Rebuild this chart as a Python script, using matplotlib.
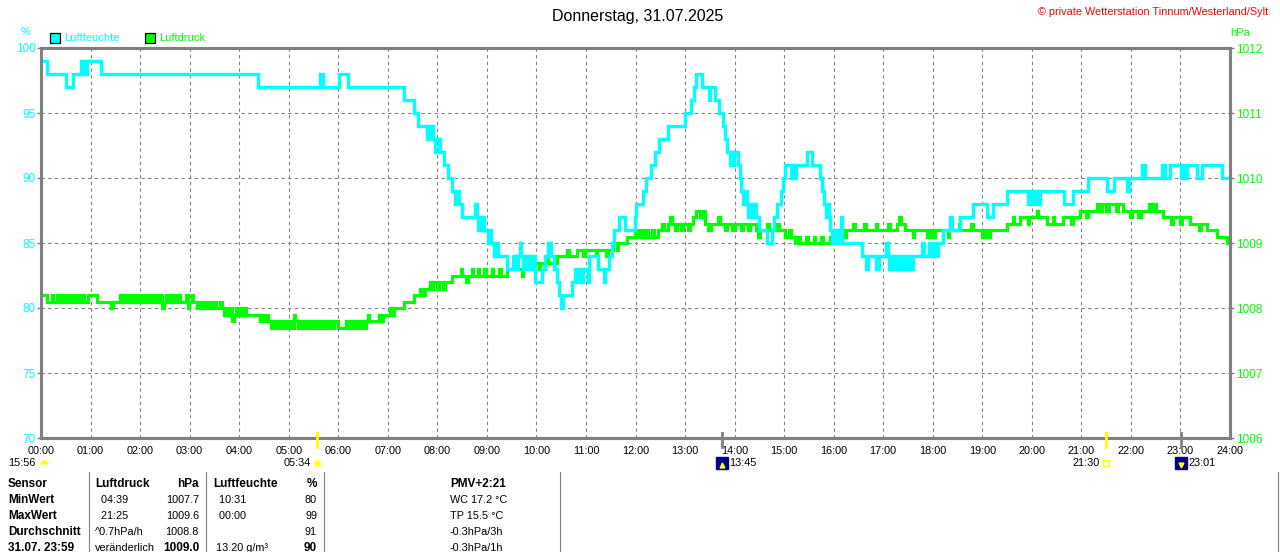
import numpy as np
import matplotlib.pyplot as plt
from matplotlib.patches import Rectangle
from matplotlib.lines import Line2D

plt.rcParams['font.family'] = ['Liberation Sans', 'DejaVu Sans']

W, H = 1280, 552

titel = 'Donnerstag, 31.07.2025'
quelle = '\u00a9 private Wetterstation Tinnum/Westerland/Sylt'

# Luftfeuchte in %, Stufenwerte (Stunde, Wert)
feuchte = [
    (0.00, 99), (0.12, 98), (0.50, 97), (0.64, 98), (0.80, 99), (0.84, 98), (0.87, 99), (0.90, 98),
    (0.93, 99), (1.22, 98), (4.38, 97), (5.64, 98), (5.69, 97), (6.02, 98), (6.20, 97), (7.33, 96),
    (7.52, 95), (7.60, 94), (7.80, 93), (7.83, 94), (7.85, 93), (7.88, 94), (7.91, 93), (7.95, 92),
    (8.04, 93), (8.06, 92), (8.14, 91), (8.21, 90), (8.29, 89), (8.36, 88), (8.40, 89), (8.44, 88),
    (8.50, 87), (8.77, 88), (8.80, 87), (8.82, 86), (8.86, 87), (8.89, 86), (8.92, 87), (8.95, 86),
    (9.02, 85), (9.06, 86), (9.08, 85), (9.15, 84), (9.18, 85), (9.23, 84), (9.40, 83), (9.53, 84),
    (9.58, 83), (9.62, 84), (9.66, 85), (9.69, 84), (9.72, 83), (9.76, 84), (9.80, 83), (9.84, 84),
    (9.88, 83), (9.92, 84), (9.97, 82), (10.11, 83), (10.17, 84), (10.24, 85), (10.30, 84), (10.36, 83),
    (10.42, 82), (10.46, 81), (10.50, 80), (10.54, 81), (10.72, 82), (10.77, 83), (10.82, 82), (10.86, 83),
    (10.92, 82), (10.95, 83), (11.04, 82), (11.07, 84), (11.25, 83), (11.36, 82), (11.39, 83), (11.46, 84),
    (11.52, 85), (11.57, 86), (11.66, 87), (11.79, 86), (11.98, 87), (12.02, 88), (12.15, 89), (12.22, 90),
    (12.32, 91), (12.40, 92), (12.47, 93), (12.66, 94), (13.00, 95), (13.13, 96), (13.19, 97), (13.23, 98),
    (13.34, 97), (13.48, 96), (13.51, 97), (13.60, 96), (13.68, 95), (13.76, 94), (13.81, 93), (13.85, 92),
    (13.90, 91), (13.93, 92), (13.96, 91), (13.99, 92), (14.07, 91), (14.10, 90), (14.13, 89), (14.17, 88),
    (14.22, 89), (14.25, 88), (14.28, 87), (14.32, 88), (14.36, 87), (14.40, 88), (14.44, 87), (14.50, 86),
    (14.66, 85), (14.75, 86), (14.80, 87), (14.85, 88), (14.94, 89), (14.98, 90), (15.02, 91), (15.14, 90),
    (15.17, 91), (15.21, 90), (15.24, 91), (15.46, 92), (15.56, 91), (15.72, 90), (15.77, 89), (15.80, 88),
    (15.84, 87), (15.87, 88), (15.90, 87), (15.93, 86), (15.96, 85), (16.00, 86), (16.03, 85), (16.06, 86),
    (16.10, 85), (16.14, 87), (16.17, 85), (16.57, 84), (16.66, 83), (16.70, 84), (16.86, 83), (16.92, 84),
    (17.06, 85), (17.09, 84), (17.12, 83), (17.16, 84), (17.19, 83), (17.24, 84), (17.27, 83), (17.33, 84),
    (17.36, 83), (17.42, 84), (17.45, 83), (17.52, 84), (17.55, 83), (17.60, 84), (17.78, 85), (17.83, 84),
    (17.93, 85), (17.97, 84), (18.02, 85), (18.06, 84), (18.10, 85), (18.20, 86), (18.34, 87), (18.38, 86),
    (18.55, 87), (18.82, 88), (19.09, 87), (19.22, 88), (19.49, 89), (19.93, 88), (19.97, 89), (20.03, 88),
    (20.07, 89), (20.12, 88), (20.16, 89), (20.64, 88), (20.84, 89), (21.14, 90), (21.51, 89), (21.65, 90),
    (21.93, 89), (21.96, 90), (22.22, 91), (22.29, 90), (22.62, 91), (22.69, 90), (22.79, 91), (23.02, 90),
    (23.06, 91), (23.10, 90), (23.14, 91), (23.33, 90), (23.43, 91), (23.83, 90), (24.00, 90),
]

# Luftdruck in hPa, Stufenwerte (Stunde, Wert)
druck = [
    (0.00, 1008.2), (0.13, 1008.1), (0.22, 1008.2), (0.25, 1008.1), (0.32, 1008.2), (0.36, 1008.1),
    (0.40, 1008.2), (0.43, 1008.1), (0.47, 1008.2), (0.51, 1008.1), (0.55, 1008.2), (0.58, 1008.1),
    (0.62, 1008.2), (0.66, 1008.1), (0.70, 1008.2), (0.74, 1008.1), (0.78, 1008.2), (0.80, 1008.1),
    (0.84, 1008.2), (0.87, 1008.1), (0.95, 1008.2), (1.13, 1008.1), (1.42, 1008.0), (1.45, 1008.1),
    (1.59, 1008.2), (1.62, 1008.1), (1.66, 1008.2), (1.70, 1008.1), (1.74, 1008.2), (1.77, 1008.1),
    (1.82, 1008.2), (1.85, 1008.1), (1.88, 1008.2), (1.92, 1008.1), (1.95, 1008.2), (1.98, 1008.1),
    (2.02, 1008.2), (2.06, 1008.1), (2.10, 1008.2), (2.14, 1008.1), (2.18, 1008.2), (2.22, 1008.1),
    (2.26, 1008.2), (2.30, 1008.1), (2.34, 1008.2), (2.37, 1008.1), (2.40, 1008.2), (2.45, 1008.0),
    (2.48, 1008.1), (2.52, 1008.2), (2.56, 1008.1), (2.60, 1008.2), (2.64, 1008.1), (2.68, 1008.2),
    (2.72, 1008.1), (2.76, 1008.2), (2.80, 1008.1), (2.92, 1008.2), (2.96, 1008.0), (2.99, 1008.1),
    (3.04, 1008.2), (3.07, 1008.1), (3.15, 1008.0), (3.20, 1008.1), (3.24, 1008.0), (3.30, 1008.1),
    (3.34, 1008.0), (3.40, 1008.1), (3.43, 1008.0), (3.50, 1008.1), (3.54, 1008.0), (3.62, 1008.1),
    (3.65, 1008.0), (3.70, 1007.9), (3.74, 1008.0), (3.78, 1007.9), (3.84, 1008.0), (3.86, 1007.8),
    (3.89, 1007.9), (3.94, 1008.0), (3.97, 1007.9), (4.02, 1008.0), (4.05, 1007.9), (4.10, 1008.0),
    (4.13, 1007.9), (4.42, 1007.8), (4.46, 1007.9), (4.50, 1007.8), (4.56, 1007.9), (4.59, 1007.8),
    (4.65, 1007.7), (4.68, 1007.8), (4.74, 1007.7), (4.77, 1007.8), (4.82, 1007.7), (4.86, 1007.8),
    (4.90, 1007.7), (4.94, 1007.8), (4.98, 1007.7), (5.02, 1007.8), (5.06, 1007.7), (5.10, 1007.9),
    (5.13, 1007.8), (5.18, 1007.7), (5.22, 1007.8), (5.28, 1007.7), (5.32, 1007.8), (5.38, 1007.7),
    (5.42, 1007.8), (5.48, 1007.7), (5.52, 1007.8), (5.58, 1007.7), (5.62, 1007.8), (5.68, 1007.7),
    (5.72, 1007.8), (5.78, 1007.7), (5.82, 1007.8), (5.88, 1007.7), (5.92, 1007.8), (6.00, 1007.7),
    (6.16, 1007.8), (6.20, 1007.7), (6.26, 1007.8), (6.30, 1007.7), (6.36, 1007.8), (6.40, 1007.7),
    (6.46, 1007.8), (6.50, 1007.7), (6.56, 1007.8), (6.60, 1007.9), (6.63, 1007.8), (6.82, 1007.9),
    (6.85, 1007.8), (6.90, 1007.9), (7.04, 1008.0), (7.10, 1007.9), (7.13, 1008.0), (7.32, 1008.1),
    (7.52, 1008.2), (7.65, 1008.3), (7.72, 1008.2), (7.75, 1008.3), (7.86, 1008.4), (7.89, 1008.3),
    (7.92, 1008.4), (8.00, 1008.3), (8.03, 1008.4), (8.12, 1008.3), (8.15, 1008.4), (8.29, 1008.5),
    (8.47, 1008.6), (8.50, 1008.5), (8.58, 1008.4), (8.61, 1008.5), (8.70, 1008.6), (8.73, 1008.5),
    (8.82, 1008.6), (8.85, 1008.5), (8.95, 1008.6), (8.98, 1008.5), (9.10, 1008.6), (9.13, 1008.5),
    (9.25, 1008.6), (9.28, 1008.5), (9.40, 1008.6), (9.55, 1008.7), (9.58, 1008.6), (9.70, 1008.5),
    (9.73, 1008.6), (9.94, 1008.7), (10.05, 1008.6), (10.08, 1008.7), (10.20, 1008.8), (10.23, 1008.7),
    (10.41, 1008.8), (10.62, 1008.9), (10.66, 1008.8), (10.81, 1008.9), (10.95, 1008.8), (10.98, 1008.9),
    (11.20, 1008.8), (11.23, 1008.9), (11.40, 1008.8), (11.44, 1008.9), (11.55, 1009.0), (11.62, 1008.9),
    (11.65, 1009.0), (11.82, 1009.1), (11.99, 1009.2), (12.04, 1009.1), (12.10, 1009.2), (12.15, 1009.1),
    (12.22, 1009.2), (12.26, 1009.1), (12.34, 1009.2), (12.38, 1009.1), (12.45, 1009.2), (12.53, 1009.3),
    (12.58, 1009.2), (12.66, 1009.3), (12.70, 1009.4), (12.73, 1009.3), (12.80, 1009.2), (12.84, 1009.3),
    (12.92, 1009.2), (12.96, 1009.3), (13.05, 1009.2), (13.09, 1009.3), (13.17, 1009.4), (13.22, 1009.5),
    (13.30, 1009.4), (13.34, 1009.5), (13.40, 1009.3), (13.47, 1009.2), (13.52, 1009.3), (13.66, 1009.4),
    (13.70, 1009.3), (13.80, 1009.2), (13.84, 1009.3), (13.95, 1009.2), (14.00, 1009.3), (14.12, 1009.2),
    (14.16, 1009.3), (14.28, 1009.2), (14.32, 1009.3), (14.44, 1009.2), (14.48, 1009.1), (14.52, 1009.2),
    (14.66, 1009.3), (14.70, 1009.2), (14.85, 1009.3), (14.90, 1009.2), (15.02, 1009.1), (15.10, 1009.2),
    (15.13, 1009.1), (15.22, 1009.0), (15.26, 1009.1), (15.32, 1009.0), (15.45, 1009.1), (15.48, 1009.0),
    (15.60, 1009.1), (15.63, 1009.0), (15.75, 1009.1), (15.78, 1009.0), (15.93, 1009.1), (16.09, 1009.2),
    (16.20, 1009.1), (16.24, 1009.2), (16.40, 1009.3), (16.43, 1009.2), (16.62, 1009.3), (16.65, 1009.2),
    (16.85, 1009.3), (16.88, 1009.2), (17.10, 1009.3), (17.13, 1009.2), (17.27, 1009.3), (17.32, 1009.4),
    (17.36, 1009.3), (17.44, 1009.2), (17.60, 1009.1), (17.63, 1009.2), (17.88, 1009.1), (17.95, 1009.2),
    (17.98, 1009.1), (18.05, 1009.2), (18.30, 1009.1), (18.33, 1009.2), (18.52, 1009.3), (18.55, 1009.2),
    (18.78, 1009.3), (18.81, 1009.2), (19.00, 1009.1), (19.05, 1009.2), (19.12, 1009.1), (19.16, 1009.2),
    (19.49, 1009.3), (19.62, 1009.4), (19.65, 1009.3), (19.76, 1009.4), (19.92, 1009.3), (19.95, 1009.4),
    (20.10, 1009.5), (20.13, 1009.4), (20.30, 1009.3), (20.42, 1009.4), (20.45, 1009.3), (20.63, 1009.4),
    (20.80, 1009.3), (20.83, 1009.4), (20.97, 1009.5), (21.10, 1009.4), (21.13, 1009.5), (21.31, 1009.6),
    (21.38, 1009.5), (21.42, 1009.6), (21.50, 1009.5), (21.56, 1009.6), (21.70, 1009.5), (21.74, 1009.6),
    (21.85, 1009.5), (21.98, 1009.4), (22.02, 1009.5), (22.15, 1009.4), (22.20, 1009.5), (22.36, 1009.6),
    (22.40, 1009.5), (22.45, 1009.6), (22.50, 1009.5), (22.65, 1009.4), (22.80, 1009.3), (22.84, 1009.4),
    (23.00, 1009.3), (23.04, 1009.4), (23.19, 1009.3), (23.38, 1009.2), (23.42, 1009.3), (23.53, 1009.2),
    (23.73, 1009.1), (23.93, 1009.0), (24.00, 1009.0),
]

stunden = list(range(25))
zeit_labels = ['%02d:00' % h for h in stunden]
feuchte_ticks = [70, 75, 80, 85, 90, 95, 100]
druck_ticks = [1006, 1007, 1008, 1009, 1010, 1011, 1012]

# Sonnen- und Mondzeiten (Stunde, Text)
sonnenaufgang = (5 + 34 / 60, '05:34')
sonnenuntergang = (21 + 30 / 60, '21:30')
mondaufgang = (13 + 45 / 60, '13:45')
monduntergang = (23 + 1 / 60, '23:01')
tageslaenge = '15:56'

tabelle = [
    ['Sensor', 'Luftdruck', 'hPa', 'Luftfeuchte', '%', 'PMV+2:21'],
    ['MinWert', '  04:39', '1007.7', '  10:31', '80', 'WC 17.2 \u00b0C'],
    ['MaxWert', '  21:25', '1009.6', '  00:00', '99', 'TP 15.5 \u00b0C'],
    ['Durchschnitt', '^0.7hPa/h', '1008.8', '', '91', '-0.3hPa/3h'],
    ['31.07. 23:59', 'ver\u00e4nderlich', '1009.0', ' 13.20 g/m\u00b3', '90', '-0.3hPa/1h'],
]

CYAN = '#00FFFF'
GRUEN = '#00FF00'
GRAU = '#808080'


def fx(px):
    return px / W


def fy(py):
    return 1 - py / H


fig = plt.figure(figsize=(W / 100, H / 100), dpi=100)
fig.patch.set_facecolor('white')

ax = fig.add_axes([fx(41), fy(438), (1230 - 41) / W, (438 - 48) / H])
ax2 = ax.twinx()
ax.set_zorder(2)
ax2.set_zorder(1)
ax.patch.set_visible(False)
ax2.patch.set_visible(True)
ax2.patch.set_facecolor('white')

# Raster auf der unteren Achse
ax2.xaxis.set_visible(True)
ax2.tick_params(axis='x', length=0, labelbottom=False, labeltop=False)
ax2.grid(True, color=GRAU, linestyle=(0, (3, 3)), linewidth=0.8)

fh, fv = zip(*feuchte)
dh, dv = zip(*druck)
ax2.step(dh, dv, where='post', color=GRUEN, lw=2.3, solid_joinstyle='miter')
ax.step(fh, fv, where='post', color=CYAN, lw=2.4, solid_joinstyle='miter')

ax.set_xlim(0, 24)
ax.set_ylim(70, 100)
ax2.set_ylim(1006, 1012)

ax.set_xticks(stunden)
ax.set_xticklabels(zeit_labels)
ax.set_yticks(feuchte_ticks)
ax2.set_yticks(druck_ticks)
ax.tick_params(axis='x', length=0, pad=6, labelsize=7.8, labelcolor='black')
ax.tick_params(axis='y', length=3, width=1, pad=1, color=GRAU, labelsize=8.5, labelcolor=CYAN)
ax2.tick_params(axis='y', length=3, width=1, pad=1, color=GRAU, labelsize=8.5, labelcolor=GRUEN)

for a in (ax, ax2):
    for s in a.spines.values():
        s.set_color(GRAU)
        s.set_linewidth(2.2)

# Kopfzeile
fig.text(fx(638), fy(16), titel, ha='center', va='center', fontsize=11.5, color='black')
fig.text(fx(1268), fy(12), quelle, ha='right', va='center', fontsize=7.8, color='red')
fig.text(fx(26), fy(32), '%', ha='center', va='center', fontsize=8, color=CYAN)
fig.text(fx(1240), fy(33), 'hPa', ha='center', va='center', fontsize=8, color=GRUEN)

for x0, farbe, name in [(50, CYAN, 'Luftfeuchte'), (145, GRUEN, 'Luftdruck')]:
    fig.add_artist(Rectangle((fx(x0), fy(43)), 10 / W, 10 / H, transform=fig.transFigure,
                             facecolor=farbe, edgecolor='black', linewidth=0.9))
    fig.text(fx(x0 + 14), fy(38), name, ha='left', va='center', fontsize=8, color=farbe)

# Sonne / Mond an der Zeitachse
xt = ax.get_xaxis_transform()
for t, farbe in [(sonnenaufgang[0], '#FFFF00'), (sonnenuntergang[0], '#FFFF00'),
                 (mondaufgang[0], GRAU), (monduntergang[0], GRAU)]:
    ax.plot([t, t], [0.013, -0.023], transform=xt, color=farbe, lw=2, clip_on=False, zorder=10)

y_icon = -(463 - 438) / 390
ax.plot(sonnenaufgang[0], y_icon, 'o', transform=xt, ms=5, color='#FFFF00',
        mec='#FFFFA0', mew=1.5, clip_on=False, zorder=10)
ax.annotate(sonnenaufgang[1], (sonnenaufgang[0], y_icon), xycoords=xt, xytext=(-4.5, 0),
            textcoords='offset points', ha='right', va='center', fontsize=7.8)
ax.plot(sonnenuntergang[0], y_icon, 's', transform=xt, ms=4, mfc='none', mec='#FFFF00',
        mew=1, clip_on=False, zorder=10)
ax.annotate(sonnenuntergang[1], (sonnenuntergang[0], y_icon), xycoords=xt, xytext=(-4.5, 0),
            textcoords='offset points', ha='right', va='center', fontsize=7.8)
for (t, txt), pfeil in [(mondaufgang, '^'), (monduntergang, 'v')]:
    ax.plot(t, y_icon, 's', transform=xt, ms=8, color='#000080', clip_on=False, zorder=10)
    ax.plot(t, y_icon - 0.005, pfeil, transform=xt, ms=3.5, color='#FFFF00', clip_on=False, zorder=11)
    ax.annotate(txt, (t, y_icon), xycoords=xt, xytext=(5, 0),
                textcoords='offset points', ha='left', va='center', fontsize=7.8)

fig.text(fx(8), fy(463), tageslaenge, ha='left', va='center', fontsize=7.8)
fig.add_artist(Line2D([fx(44)], [fy(464)], marker='o', ms=6, color='#FFFF00', mew=0,
                      fillstyle='top', transform=fig.transFigure))

# Tabelle
for xl in (89, 206, 324, 560, 1278):
    fig.add_artist(Line2D([fx(xl), fx(xl)], [fy(472), fy(552)], color=GRAU, lw=0.8,
                          transform=fig.transFigure))

spalten = [(8, 'left'), (95, 'left'), (199, 'right'), (213, 'left'), (317, 'right'), (450, 'left')]
zeilen_y = [484, 500, 516, 532, 548]
for r, zeile in enumerate(tabelle):
    for c, txt in enumerate(zeile):
        fett = r == 0 or c == 0 or (r == 4 and c in (2, 4))
        x0, ha = spalten[c]
        fig.text(fx(x0), fy(zeilen_y[r]), txt, ha=ha, va='center',
                 fontsize=8.5 if fett else 7.8, fontweight='bold' if fett else 'normal')

fig.savefig('out.png', dpi=100, facecolor='white')
